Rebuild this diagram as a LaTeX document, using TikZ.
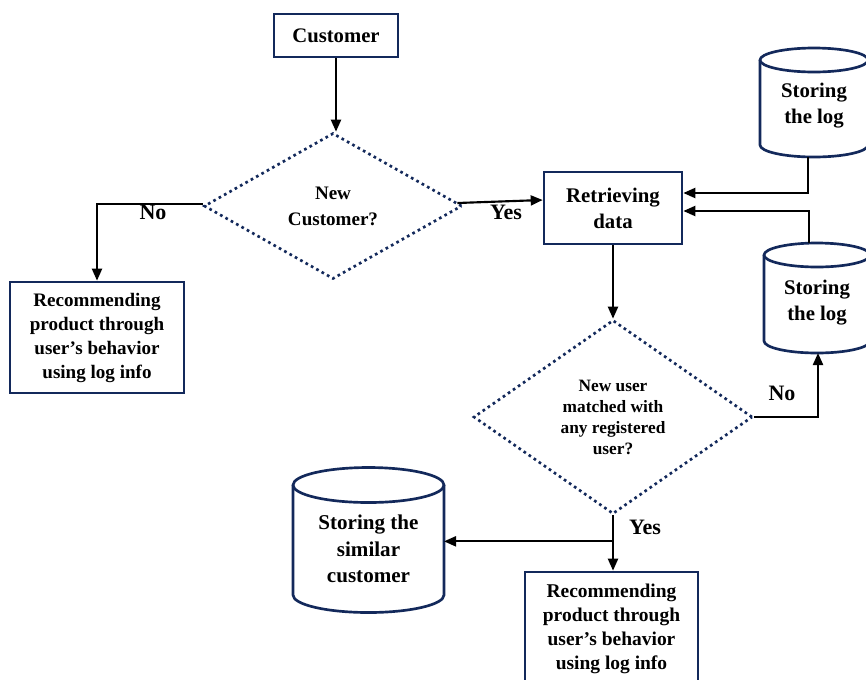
\documentclass[tikz,border=0pt]{standalone}
\usepackage{fontspec}
\setmainfont{Liberation Serif}
\usetikzlibrary{arrows.meta,shapes.geometric,calc}
\definecolor{navy}{HTML}{13295B}
% cylinder: centre x, top ellipse y, bottom ellipse y, x radius, y radius (px units)
\newcommand\storecyl[5]{%
  \fill[white] ({#1-#4},{-#2}) -- ({#1-#4},{-#3})
     arc[start angle=180,end angle=360,x radius={#4*0.75pt},y radius={#5*0.75pt}]
     -- ({#1+#4},{-#2}) -- cycle;
  \draw[store] ({#1-#4},{-#2}) -- ({#1-#4},{-#3})
     arc[start angle=180,end angle=360,x radius={#4*0.75pt},y radius={#5*0.75pt}]
     -- ({#1+#4},{-#2});
  \draw[store,fill=white] (#1,{-#2}) ellipse[x radius={#4*0.75pt},y radius={#5*0.75pt}];
}
\begin{document}
\begin{tikzpicture}[x=0.75pt,y=0.75pt,
  box/.style={draw=navy,line width=2pt,fill=white,align=center,inner sep=0pt},
  decision/.style={diamond,draw=navy,line width=2pt,dash pattern=on 2pt off 2.6pt,
                   align=center,inner sep=0pt},
  store/.style={draw=navy,line width=2pt},
  flow/.style={draw=black,line width=1.6pt,-{Triangle[length=9pt,width=7.5pt]}},
  link/.style={draw=black,line width=1.6pt},
  lbl/.style={inner sep=0pt,font=\bfseries\fontsize{16.5}{18}\selectfont}]
\useasboundingbox (0,0) rectangle (866,-679);

% process boxes
\node[box,minimum width=93pt,minimum height=32.25pt,
      font=\bfseries\fontsize{15.5}{18}\selectfont] (cust) at (336,-35.5) {Customer};
\node[box,minimum width=130.5pt,minimum height=83.25pt,
      font=\bfseries\fontsize{14.3}{18}\selectfont] (rec1) at (97,-337.5)
      {Recommending\\product through\\user's behavior\\using log info};
\node[box,minimum width=103.5pt,minimum height=54pt,
      font=\bfseries\fontsize{15.6}{19.5}\selectfont] (ret) at (613,-208)
      {Retrieving\\data};
\node[box,minimum width=129.75pt,minimum height=85.5pt,
      font=\bfseries\fontsize{14.6}{18}\selectfont] (rec2) at (611.5,-629)
      {Recommending\\product through\\user's behavior\\using log info};

% decisions
\node[decision,minimum width=193.5pt,minimum height=109.5pt,
      font=\bfseries\fontsize{14.3}{19.5}\selectfont] (d1) at (333,-206)
      {New\\Customer?};
\node[decision,minimum width=209.25pt,minimum height=145.5pt,
      font=\bfseries\fontsize{13}{15.75}\selectfont] (d2) at (613,-417)
      {New user\\matched with\\any registered\\user?};

% data stores
\storecyl{814}{60}{145}{54}{12}
\storecyl{817}{255}{341}{53}{12}
\storecyl{368.5}{485}{595}{75.5}{17.5}
\node[align=center,inner sep=0pt,font=\bfseries\fontsize{15.6}{19.5}\selectfont]
      (log1) at (814,-106) {Storing\\the log};
\node[align=center,inner sep=0pt,font=\bfseries\fontsize{15.6}{19.5}\selectfont]
      (log2) at (817,-303) {Storing\\the log};
\node[align=center,inner sep=0pt,font=\bfseries\fontsize{15.8}{20}\selectfont]
      (sim) at (368.5,-549) {Storing the\\similar\\customer};
\coordinate (log1b) at (808,-157);
\coordinate (log2t) at (809,-243);
\coordinate (log2b) at (818,-353);
\coordinate (simE) at (444,-541.5);

% connectors
\draw[flow] (cust.south) -- (cust.south |- d1.north);
\draw[flow] ($(d1.east)+(-6,3)$) -- ([yshift=6pt]ret.west);
\draw[flow] ([yshift=1.5pt]d1.west) -| (rec1.north);
\draw[flow] (log1b) |- ([yshift=11.25pt]ret.east);
\draw[flow] (log2t) |- ([yshift=-2.25pt]ret.east);
\draw[flow] (ret.south) -- (d2.north);
\draw[flow] (d2.east) -| (log2b);
\draw[flow] (d2.south) -- (d2.south |- rec2.north);
\coordinate (split) at ($(d2.south)!0.47!(d2.south |- rec2.north)$);
\draw[flow] (split) -- (simE |- split);

% branch labels
\node[lbl] (yes1) at (506,-212) {Yes};
\node[lbl] (no1) at (153,-212) {No};
\node[lbl] (no2) at (782,-393) {No};
\node[lbl] (yes2) at (645,-527) {Yes};
\end{tikzpicture}
\end{document}
